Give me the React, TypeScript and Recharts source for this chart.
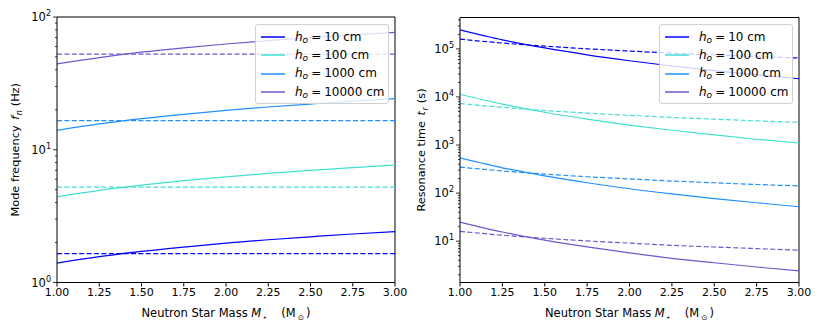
import React from 'react'
import { LineChart, Line, XAxis, YAxis, Legend, ReferenceLine } from 'recharts'

// neutron star masses (M_sun)
const masses = [1.0, 1.25, 1.5, 1.75, 2.0, 2.25, 2.5, 2.75, 3.0]
const hLabels = ['10', '100', '1000', '10000']
const colors = ['#0000ff', '#40e0d0', '#1e90ff', '#6a5acd']

// mode frequency f_n (Hz), solid
const freq10 = [1.4, 1.565, 1.715, 1.85, 1.98, 2.1, 2.21, 2.32, 2.42]
const freq100 = [4.42, 4.94, 5.41, 5.85, 6.25, 6.63, 6.99, 7.33, 7.65]
const freq1000 = [14.0, 15.65, 17.15, 18.5, 19.8, 21.0, 22.1, 23.2, 24.25]
const freq10000 = [44.3, 49.5, 54.3, 58.6, 62.6, 66.4, 70.0, 73.4, 76.7]
// dashed reference frequencies
const freqRef10 = [1.65, 1.65, 1.65, 1.65, 1.65, 1.65, 1.65, 1.65, 1.65]
const freqRef100 = [5.23, 5.23, 5.23, 5.23, 5.23, 5.23, 5.23, 5.23, 5.23]
const freqRef1000 = [16.55, 16.55, 16.55, 16.55, 16.55, 16.55, 16.55, 16.55, 16.55]
const freqRef10000 = [52.5, 52.5, 52.5, 52.5, 52.5, 52.5, 52.5, 52.5, 52.5]

// resonance time t_r (s), solid
const time10 = [248000, 154000, 104600, 75300, 56700, 44100, 35200, 28700, 23900]
const time100 = [11400, 7090, 4810, 3460, 2600, 2030, 1620, 1320, 1100]
const time1000 = [540, 336, 228, 164, 123, 96, 77, 63, 52]
const time10000 = [25, 15.5, 10.5, 7.6, 5.7, 4.4, 3.55, 2.9, 2.4]
// dashed
const timeRef10 = [159000, 132500, 114000, 100500, 90200, 81700, 75000, 69300, 64600]
const timeRef100 = [7300, 6080, 5230, 4610, 4140, 3750, 3450, 3180, 2970]
const timeRef1000 = [347, 289, 249, 219, 197, 178, 164, 151, 141]
const timeRef10000 = [16.0, 13.3, 11.5, 10.1, 9.1, 8.2, 7.55, 7.0, 6.5]

const xTicks = [1.0, 1.25, 1.5, 1.75, 2.0, 2.25, 2.5, 2.75, 3.0]
const freqMajors = [1, 10, 100]
const timeMajors = [1, 10, 100, 1000, 10000, 100000]

const FONT = '"DejaVu Sans", sans-serif'

const withMinors = (majors: number[], lo: number, hi: number) => {
  const out: number[] = []
  majors.forEach((m) => {
    for (let k = 1; k <= 9; k++) {
      const v = m * k
      if (v >= lo && v <= hi) out.push(v)
    }
  })
  return out
}

const buildRows = (solid: number[][], dashed: number[][]) =>
  masses.map((m, i) => {
    const row: any = { m }
    solid.forEach((s, j) => (row['s' + j] = s[i]))
    dashed.forEach((s, j) => (row['d' + j] = s[i]))
    return row
  })

const freqRows = buildRows(
  [freq10, freq100, freq1000, freq10000],
  [freqRef10, freqRef100, freqRef1000, freqRef10000]
)
const timeRows = buildRows(
  [time10, time100, time1000, time10000],
  [timeRef10, timeRef100, timeRef1000, timeRef10000]
)

const LogTick = ({ x, y, payload }: any) => {
  const v = payload.value
  const lg = Math.log10(v)
  const exp = Math.round(lg)
  const major = Math.abs(lg - exp) < 1e-6
  return (
    <g>
      <line x1={x - (major ? 4 : 2)} x2={x} y1={y} y2={y} stroke="#000" strokeWidth={0.8} />
      {major && (
        <text x={x - 6} y={y + 4} textAnchor="end" fontSize={11.5} fontFamily={FONT} fill="#000">
          10
          <tspan dy={-5} fontSize={8}>{exp}</tspan>
        </text>
      )}
    </g>
  )
}

const XLabel = ({ viewBox }: any) => {
  const cx = viewBox.x + viewBox.width / 2
  return (
    <text x={cx} y={viewBox.y + 34} textAnchor="middle" fontSize={11.5} fontFamily={FONT} fill="#000">
      Neutron Star Mass <tspan fontStyle="italic">M</tspan>
      <tspan fontSize={8} dy={3} dx={1}>⋆</tspan>
      <tspan dy={-3} dx={14}>(M</tspan>
      <tspan fontSize={7.5} dy={3} dx={2}>⊙</tspan>
      <tspan dy={-3} dx={2}>)</tspan>
    </text>
  )
}

const YLabel = ({ viewBox, sym, sub, unit, dx }: any) => {
  const cy = viewBox.y + viewBox.height / 2
  const cx = dx
  return (
    <text
      x={cx}
      y={cy}
      transform={`rotate(-90 ${cx} ${cy})`}
      textAnchor="middle"
      fontSize={11.3}
      fontFamily={FONT}
      fill="#000"
    >
      {sym[0]} <tspan fontStyle="italic" dx={2}>{sym[1]}</tspan>
      <tspan fontSize={8} dy={3} dx={0.5} fontStyle="italic">{sub}</tspan>
      <tspan dy={-3} dx={4}>{unit}</tspan>
    </text>
  )
}

const LegendBox = () => (
  <div
    style={{
      background: 'rgba(255,255,255,0.8)',
      border: '1px solid #d0d0d0',
      borderRadius: 3,
      padding: '3px 0 2px 0',
      fontFamily: FONT,
      fontSize: 12,
      color: '#000',
      boxSizing: 'border-box',
    }}
  >
    {hLabels.map((h, i) => (
      <div key={h} style={{ display: 'flex', alignItems: 'center', height: 18.3, whiteSpace: 'nowrap' }}>
        <svg width={24} height={4} style={{ marginLeft: 5, marginRight: 10, display: 'block' }}>
          <line x1={0} x2={24} y1={2} y2={2} stroke={colors[i]} strokeWidth={1.5} />
        </svg>
        <span>
          <i>h</i>
          <sub style={{ fontSize: 9, fontStyle: 'italic', verticalAlign: -2 }}>o</sub>
          <span style={{ margin: '0 3px 0 3px' }}>=</span>
          {h + ' cm'}
        </span>
      </div>
    ))}
  </div>
)

const Panel = ({ rows, domain, majors, margin, yWidth, label, legendLeft }: any) => {
  const ticks = withMinors(majors, domain[0], domain[1])
  return (
    <LineChart width={411} height={329} data={rows} margin={margin}>
      <XAxis
        dataKey="m"
        type="number"
        domain={[1, 3]}
        ticks={xTicks}
        interval={0}
        allowDataOverflow
        tickFormatter={(v: number) => v.toFixed(2)}
        tick={{ fontSize: 11, fill: '#000', fontFamily: FONT }}
        tickSize={4}
        tickMargin={2}
        stroke="#000"
        height={30}
        label={<XLabel />}
      />
      <YAxis
        type="number"
        scale="log"
        domain={domain}
        allowDataOverflow
        ticks={ticks}
        interval={0}
        tick={<LogTick />}
        tickLine={false}
        tickSize={0}
        tickMargin={0}
        stroke="#000"
        width={yWidth}
        label={<YLabel {...label} />}
      />
      <ReferenceLine x={3} stroke="#000" strokeWidth={1} />
      <ReferenceLine y={domain[1]} stroke="#000" strokeWidth={1} />
      {colors.map((c, j) => (
        <Line
          key={'d' + j}
          dataKey={'d' + j}
          stroke={c}
          strokeWidth={1.2}
          strokeDasharray="5 2.4"
          dot={false}
          type="monotone"
          isAnimationActive={false}
        />
      ))}
      {colors.map((c, j) => (
        <Line
          key={'s' + j}
          dataKey={'s' + j}
          stroke={c}
          strokeWidth={1.2}
          dot={false}
          type="monotone"
          isAnimationActive={false}
        />
      ))}
      <Legend
        layout="horizontal"
        verticalAlign="middle"
        align="center"
        wrapperStyle={{ left: legendLeft, top: 24, width: 134, height: 'auto' }}
        content={() => <LegendBox />}
      />
    </LineChart>
  )
}

export default function App() {
  return (
    <div style={{ position: 'fixed', left: 0, top: 0, width: 822, height: 329, background: '#fff', display: 'flex' }}>
      <Panel
        rows={freqRows}
        domain={[1, 100]}
        majors={freqMajors}
        margin={{ top: 17, right: 16, bottom: 16.5, left: 7 }}
        yWidth={50}
        label={{ sym: ['Mode frequency', 'f'], sub: 'n', unit: '(Hz)', dx: 19 }}
        legendLeft={255}
      />
      <Panel
        rows={timeRows}
        domain={[1.38, 450000]}
        majors={timeMajors}
        margin={{ top: 17.5, right: 23, bottom: 16.5, left: 5 }}
        yWidth={44}
        label={{ sym: ['Resonance time', 't'], sub: 'r', unit: '(s)', dx: 13.5 }}
        legendLeft={248}
      />
    </div>
  )
}
